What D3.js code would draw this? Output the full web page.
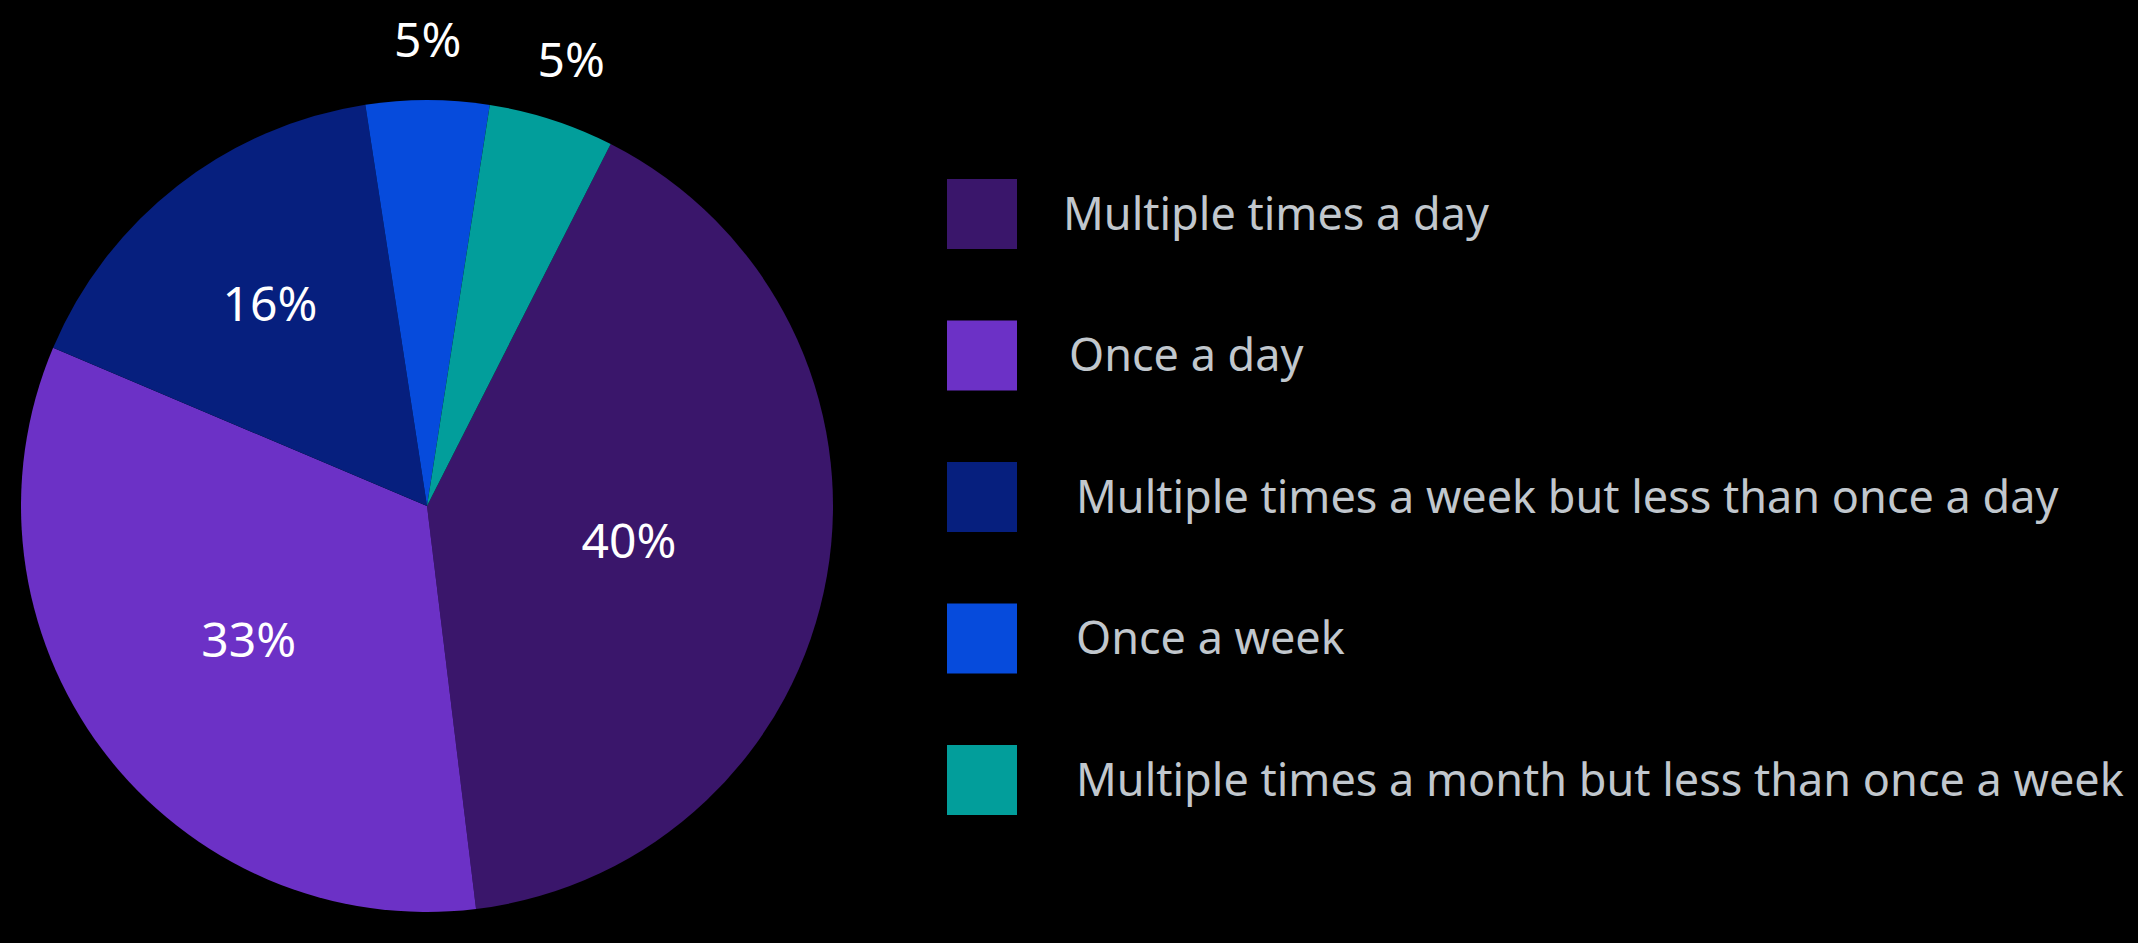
<!DOCTYPE html>
<html>
<head>
<meta charset="utf-8">
<script src="https://cdn.jsdelivr.net/npm/d3@7"></script>
<style>
  html, body { margin: 0; padding: 0; background: #000; }
  svg { display: block; }
</style>
</head>
<body>
<svg id="chart"></svg>
<script>
// data
const categories = [
  'Multiple times a day',
  'Once a day',
  'Multiple times a week but less than once a day',
  'Once a week',
  'Multiple times a month but less than once a week'
];
const shares = [40.6, 33.3, 16.2, 4.9, 5.0];
const shareLabels = ['40%', '33%', '16%', '5%', '5%'];
const colors = ['#3a166b', '#6c31c6', '#061f7e', '#064bdc', '#029e9b'];

const width = 2138;
const height = 943;
const cx = 427, cy = 506, radius = 406;
const startDeg = 26.9;
// distance of each label from the centre, as a share of the radius
const labelPos = [0.505, 0.55, 0.63, 1.148, 1.155];
// small left shifts of the legend texts, as in the reference
const legendTextX = [116, 122, 129, 129, 129];

const svg = d3.select('#chart')
  .attr('width', width)
  .attr('height', height);

svg.append('rect')
  .attr('width', width)
  .attr('height', height)
  .attr('fill', '#000');

const color = d3.scaleOrdinal().domain(categories).range(colors);

const start = startDeg * Math.PI / 180;
const pie = d3.pie()
  .sort(null)
  .value(d => d.value)
  .startAngle(start)
  .endAngle(start + 2 * Math.PI);

const data = categories.map((c, i) => ({ name: c, value: shares[i], label: shareLabels[i], pos: labelPos[i] }));
const arcs = pie(data);

const arc = d3.arc().innerRadius(0).outerRadius(radius);

const g = svg.append('g').attr('transform', 'translate(' + cx + ',' + cy + ')');

g.selectAll('path.slice')
  .data(arcs)
  .enter().append('path')
  .attr('class', 'slice')
  .attr('d', arc)
  .attr('fill', d => color(d.data.name));

g.selectAll('text.pct')
  .data(arcs)
  .enter().append('text')
  .attr('class', 'pct')
  .attr('transform', d => {
    const a = (d.startAngle + d.endAngle) / 2;
    const r = radius * d.data.pos;
    return 'translate(' + (Math.sin(a) * r) + ',' + (-Math.cos(a) * r) + ')';
  })
  .attr('text-anchor', 'middle')
  .attr('dy', '0.35em')
  .attr('fill', '#ffffff')
  .style('font-family', '"Noto Sans", sans-serif')
  .style('font-size', '48px')
  .text(d => d.data.label);

// legend
const legendY = d3.scalePoint()
  .domain(categories)
  .range([214, 780]);

const legend = svg.append('g').attr('class', 'legend');

const item = legend.selectAll('g.item')
  .data(categories)
  .enter().append('g')
  .attr('class', 'item')
  .attr('transform', d => 'translate(947,' + legendY(d) + ')');

item.append('rect')
  .attr('x', 0)
  .attr('y', -35)
  .attr('width', 70)
  .attr('height', 70)
  .attr('fill', d => color(d));

item.append('text')
  .attr('x', (d, i) => legendTextX[i])
  .attr('dy', '0.35em')
  .attr('fill', '#c1c7cd')
  .style('font-family', '"Noto Sans", sans-serif')
  .style('font-size', '45px')
  .text(d => d);
</script>
</body>
</html>
